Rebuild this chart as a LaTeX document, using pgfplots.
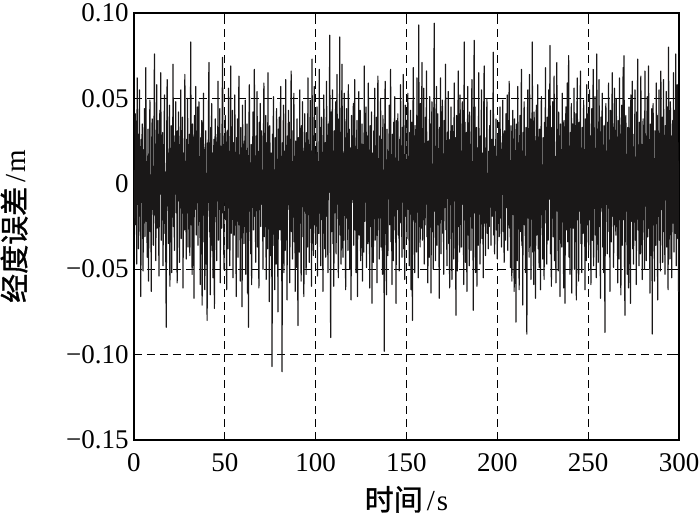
\documentclass[border=0pt]{standalone}
\usepackage{fontspec}
\setmainfont{Liberation Serif}
\newfontfamily\cjk{Noto Sans CJK SC}[FakeBold=1.2]
\usepackage{pgfplots}
\usepackage{pgfplotstable}
\pgfplotsset{compat=1.18}

% longitude error, one sample every 0.25 s
\pgfplotstableread[row sep=\\,header=false]{
0.008\\-0.024\\0.041\\-0.005\\0.017\\-0.047\\0.062\\-0.012\\0.029\\-0.038\\0.003\\0.055\\-0.019\\0.011\\-0.066\\0.026\\-0.002\\0.035\\-0.014\\-0.051\\
0.020\\-0.009\\0.044\\-0.031\\0.006\\0.068\\-0.022\\0.013\\-0.043\\0.001\\0.032\\-0.057\\0.016\\-0.007\\0.049\\-0.028\\0.004\\-0.063\\0.023\\0.038\\
-0.015\\0.010\\-0.036\\0.027\\0.076\\-0.018\\0.005\\-0.045\\0.014\\0.058\\-0.026\\0.002\\0.037\\-0.011\\-0.054\\0.021\\0.043\\-0.006\\0.065\\-0.033\\
0.009\\-0.021\\0.030\\-0.048\\0.016\\-0.003\\0.052\\-0.029\\0.007\\-0.040\\-0.084\\0.025\\0.061\\-0.013\\0.018\\-0.035\\0.004\\0.046\\-0.060\\0.012\\
-0.008\\0.034\\-0.052\\0.019\\0.002\\0.070\\-0.025\\0.011\\-0.039\\0.028\\-0.006\\0.048\\-0.017\\0.005\\-0.058\\0.031\\-0.010\\0.042\\0.015\\-0.046\\
0.023\\-0.014\\0.055\\-0.032\\0.008\\-0.005\\0.039\\-0.061\\0.018\\0.003\\-0.027\\0.064\\-0.020\\0.012\\-0.044\\0.026\\-0.001\\0.050\\-0.037\\0.007\\
-0.018\\0.029\\-0.042\\0.013\\0.083\\-0.024\\0.006\\-0.053\\0.035\\-0.009\\0.021\\-0.067\\0.040\\-0.015\\0.004\\0.057\\-0.030\\0.017\\-0.008\\0.045\\
-0.036\\0.010\\0.048\\-0.022\\0.001\\-0.059\\0.027\\-0.012\\0.037\\-0.071\\0.015\\-0.004\\0.053\\-0.034\\0.020\\-0.062\\0.009\\0.031\\-0.047\\0.002\\
-0.080\\0.024\\-0.011\\0.041\\0.071\\-0.028\\0.012\\-0.065\\0.033\\-0.006\\0.047\\-0.039\\0.018\\-0.055\\0.007\\0.026\\-0.073\\0.014\\0.038\\-0.019\\
0.005\\-0.045\\0.029\\-0.010\\0.060\\-0.033\\0.016\\-0.003\\0.044\\-0.058\\0.022\\0.008\\-0.026\\0.036\\0.074\\-0.017\\0.003\\-0.050\\0.028\\-0.007\\
0.040\\-0.021\\0.013\\-0.062\\0.031\\0.002\\-0.038\\0.056\\-0.013\\0.019\\-0.048\\0.009\\0.069\\-0.029\\0.015\\-0.005\\0.043\\-0.055\\0.024\\0.011\\
-0.030\\0.052\\-0.016\\0.004\\-0.066\\0.027\\-0.008\\0.038\\-0.043\\0.017\\0.063\\-0.024\\0.006\\-0.057\\0.033\\-0.012\\0.021\\-0.072\\0.046\\-0.002\\
0.014\\-0.035\\0.025\\-0.007\\0.049\\-0.053\\0.010\\-0.020\\0.035\\-0.064\\0.003\\-0.084\\0.030\\0.058\\-0.016\\0.008\\-0.041\\0.023\\-0.059\\0.016\\
-0.004\\0.042\\-0.027\\0.012\\0.067\\-0.019\\0.001\\-0.046\\0.028\\-0.010\\0.054\\-0.037\\0.019\\-0.006\\-0.061\\0.036\\-0.015\\0.047\\-0.025\\0.009\\
0.031\\-0.012\\0.006\\-0.050\\0.022\\0.059\\-0.031\\0.015\\-0.003\\0.040\\-0.056\\0.024\\0.007\\-0.038\\0.065\\-0.018\\0.011\\-0.069\\0.034\\-0.009\\
-0.042\\0.018\\0.004\\-0.107\\0.029\\-0.014\\0.051\\-0.036\\0.008\\-0.062\\0.027\\0.013\\-0.047\\0.044\\-0.020\\0.003\\-0.075\\0.032\\-0.005\\0.039\\
-0.027\\0.014\\0.057\\-0.033\\0.006\\-0.110\\0.024\\-0.012\\0.046\\-0.052\\0.019\\0.002\\-0.039\\0.061\\-0.022\\0.010\\-0.068\\0.028\\-0.009\\0.043\\
-0.015\\0.036\\-0.058\\0.020\\0.004\\0.066\\-0.028\\0.009\\-0.044\\0.031\\-0.006\\0.053\\-0.034\\0.016\\-0.063\\0.025\\0.001\\-0.049\\0.038\\-0.018\\
-0.083\\0.027\\0.011\\-0.040\\0.055\\-0.023\\0.007\\-0.057\\0.034\\-0.002\\0.048\\-0.031\\0.019\\-0.066\\0.012\\0.041\\-0.016\\0.005\\-0.053\\0.030\\
0.003\\-0.037\\0.062\\-0.018\\0.023\\-0.046\\0.010\\0.049\\-0.026\\0.014\\-0.060\\0.073\\-0.009\\0.028\\-0.042\\0.017\\0.057\\-0.024\\0.006\\-0.035\\
0.020\\-0.008\\0.045\\-0.054\\0.013\\0.001\\-0.029\\0.067\\-0.014\\0.033\\-0.048\\0.008\\0.039\\-0.021\\0.005\\-0.063\\0.026\\0.052\\-0.011\\-0.038\\
0.024\\-0.043\\0.016\\0.060\\-0.019\\0.007\\-0.052\\0.035\\-0.005\\0.029\\0.087\\-0.016\\-0.090\\0.042\\-0.028\\0.012\\0.055\\-0.035\\0.003\\-0.060\\
0.031\\-0.017\\0.009\\0.048\\-0.041\\0.022\\0.064\\-0.012\\0.002\\-0.055\\0.038\\-0.024\\0.086\\-0.030\\0.014\\-0.047\\0.026\\0.070\\-0.008\\-0.043\\
0.018\\-0.033\\0.053\\-0.004\\0.011\\-0.062\\0.027\\0.044\\-0.020\\0.006\\-0.039\\0.058\\-0.015\\0.032\\-0.050\\0.021\\0.003\\-0.068\\0.040\\-0.011\\
0.025\\-0.009\\0.047\\-0.036\\0.015\\0.061\\-0.027\\0.004\\-0.052\\0.020\\0.037\\-0.066\\0.010\\-0.018\\0.054\\-0.030\\0.008\\0.043\\-0.045\\0.016\\
-0.002\\0.035\\-0.057\\0.023\\0.009\\-0.040\\0.069\\-0.022\\0.013\\-0.005\\0.045\\-0.049\\0.028\\0.002\\-0.035\\0.059\\-0.013\\0.019\\-0.061\\0.034\\
0.012\\-0.025\\0.042\\-0.070\\0.018\\0.006\\-0.046\\0.031\\-0.010\\0.056\\-0.033\\0.021\\-0.004\\0.039\\-0.058\\0.015\\0.063\\-0.020\\0.007\\-0.044\\
0.028\\-0.011\\0.050\\-0.037\\0.003\\0.026\\-0.053\\0.040\\-0.016\\0.008\\-0.098\\0.023\\0.060\\-0.029\\0.014\\-0.065\\0.032\\0.002\\-0.042\\0.019\\
-0.007\\0.046\\-0.024\\0.011\\0.067\\-0.034\\0.017\\-0.059\\0.029\\0.005\\-0.045\\0.036\\-0.012\\0.051\\-0.027\\0.009\\-0.070\\0.037\\0.022\\-0.015\\
0.041\\-0.030\\0.013\\-0.051\\0.026\\0.002\\0.058\\-0.023\\0.007\\-0.043\\0.033\\-0.008\\0.064\\-0.038\\0.016\\-0.056\\0.024\\0.046\\-0.019\\0.004\\
-0.032\\0.021\\0.053\\-0.015\\0.006\\-0.048\\0.030\\-0.004\\0.043\\-0.062\\0.018\\0.036\\-0.080\\0.027\\0.068\\-0.021\\0.011\\-0.052\\0.034\\-0.009\\
0.015\\-0.040\\0.062\\-0.013\\0.028\\-0.055\\0.093\\-0.018\\0.009\\-0.037\\0.047\\-0.026\\0.003\\0.071\\-0.033\\0.020\\-0.011\\0.056\\-0.047\\0.014\\
-0.024\\0.039\\-0.006\\0.066\\-0.031\\0.012\\-0.058\\0.025\\0.004\\-0.043\\0.051\\-0.019\\0.035\\-0.064\\0.017\\0.048\\-0.028\\0.008\\-0.050\\0.031\\
0.094\\-0.016\\0.022\\-0.045\\0.010\\0.057\\-0.036\\0.003\\0.041\\-0.024\\0.015\\-0.067\\0.033\\-0.009\\0.062\\-0.041\\0.027\\-0.004\\0.049\\-0.029\\
0.007\\-0.053\\0.037\\-0.014\\0.024\\0.070\\-0.027\\0.012\\-0.048\\0.030\\-0.003\\0.054\\-0.035\\0.018\\-0.061\\0.026\\0.005\\0.045\\-0.022\\-0.056\\
0.034\\-0.018\\0.008\\-0.044\\0.059\\-0.010\\0.027\\-0.033\\-0.077\\0.040\\0.013\\-0.051\\0.022\\0.066\\-0.025\\0.006\\-0.040\\0.052\\-0.016\\0.019\\
-0.037\\0.026\\0.048\\-0.012\\0.003\\-0.059\\0.083\\-0.021\\0.036\\-0.046\\0.011\\0.030\\-0.063\\0.017\\0.057\\-0.030\\0.009\\-0.048\\0.042\\-0.005\\
0.023\\-0.039\\0.015\\0.061\\-0.026\\0.007\\-0.074\\0.029\\0.084\\-0.017\\0.045\\-0.052\\0.010\\0.033\\-0.060\\0.021\\0.004\\-0.036\\0.065\\-0.014\\
0.011\\-0.047\\0.028\\-0.005\\0.055\\-0.032\\0.018\\0.002\\-0.055\\0.039\\0.069\\-0.023\\0.014\\-0.042\\0.027\\-0.008\\0.050\\-0.029\\0.006\\-0.038\\
0.019\\-0.025\\0.034\\-0.010\\0.043\\-0.036\\0.008\\0.026\\-0.019\\0.004\\0.077\\-0.030\\0.013\\-0.041\\0.022\\-0.006\\0.038\\-0.027\\0.016\\-0.044\\
0.029\\-0.012\\0.036\\-0.031\\0.005\\0.045\\-0.020\\0.012\\-0.037\\0.024\\-0.003\\0.049\\-0.028\\0.009\\-0.046\\0.031\\0.018\\-0.033\\0.041\\-0.014\\
0.008\\0.052\\-0.039\\0.017\\-0.007\\0.060\\-0.026\\0.003\\-0.049\\0.034\\0.021\\-0.057\\0.012\\0.043\\-0.018\\0.026\\-0.063\\0.038\\-0.010\\0.015\\
-0.081\\0.035\\0.006\\-0.045\\0.057\\-0.017\\0.024\\-0.062\\0.013\\0.040\\-0.028\\0.005\\0.067\\-0.036\\0.019\\-0.071\\0.030\\-0.004\\0.048\\-0.024\\
0.016\\-0.052\\0.033\\0.002\\-0.088\\0.027\\0.055\\-0.020\\0.009\\-0.043\\0.064\\-0.014\\0.038\\-0.056\\0.021\\-0.008\\0.083\\-0.040\\0.013\\-0.059\\
0.042\\-0.011\\0.025\\-0.067\\0.018\\0.046\\-0.030\\0.004\\0.058\\-0.038\\0.015\\-0.049\\0.032\\0.006\\-0.062\\0.024\\0.051\\-0.018\\0.010\\-0.044\\
0.027\\0.007\\-0.056\\0.036\\-0.015\\0.068\\-0.023\\0.013\\-0.047\\0.039\\0.002\\-0.033\\0.055\\-0.009\\0.021\\0.081\\-0.041\\0.019\\-0.060\\0.033\\
-0.020\\0.048\\-0.031\\0.010\\0.063\\-0.045\\0.016\\-0.005\\-0.058\\0.030\\0.071\\-0.016\\0.006\\-0.051\\0.042\\-0.022\\0.028\\-0.066\\0.035\\-0.001\\
0.014\\-0.037\\0.053\\-0.012\\0.024\\-0.061\\0.037\\0.008\\-0.070\\0.019\\0.045\\-0.027\\0.003\\0.059\\-0.034\\0.012\\0.075\\-0.043\\0.022\\-0.053\\
0.030\\-0.008\\0.047\\-0.064\\0.011\\0.035\\-0.026\\0.006\\0.056\\-0.050\\0.018\\-0.013\\0.041\\-0.068\\0.025\\0.062\\-0.021\\0.009\\-0.057\\0.036\\
-0.016\\0.027\\0.066\\-0.035\\0.004\\-0.052\\0.033\\0.017\\-0.029\\0.049\\-0.007\\0.020\\-0.062\\0.038\\0.013\\-0.045\\0.058\\-0.024\\0.007\\0.041\\
-0.039\\0.012\\0.055\\-0.021\\0.028\\-0.059\\0.009\\0.044\\-0.033\\0.003\\0.067\\-0.048\\0.024\\-0.011\\0.051\\-0.030\\0.015\\-0.055\\0.076\\-0.018\\
0.032\\-0.046\\0.010\\0.061\\-0.025\\0.005\\-0.067\\0.039\\-0.014\\0.022\\0.053\\-0.037\\0.008\\-0.052\\0.034\\-0.020\\-0.087\\0.028\\0.047\\-0.012\\
0.018\\-0.041\\0.036\\-0.006\\0.059\\-0.028\\0.013\\-0.063\\0.043\\0.002\\-0.034\\0.025\\0.065\\-0.019\\0.007\\-0.049\\0.031\\0.056\\-0.024\\0.010\\
-0.030\\0.050\\-0.015\\0.022\\-0.058\\0.037\\0.004\\-0.044\\0.062\\-0.012\\0.029\\-0.065\\0.017\\0.046\\-0.036\\0.009\\0.068\\-0.021\\0.075\\-0.041\\
-0.077\\0.024\\0.040\\-0.016\\0.008\\-0.053\\0.033\\0.015\\-0.061\\0.045\\-0.007\\0.026\\-0.070\\0.052\\-0.022\\0.011\\0.060\\-0.038\\0.019\\-0.047\\
0.029\\-0.010\\0.055\\-0.033\\0.014\\-0.059\\0.042\\-0.004\\0.073\\-0.027\\0.018\\-0.048\\0.036\\0.006\\-0.041\\0.063\\-0.019\\0.023\\-0.056\\0.012\\
0.038\\-0.021\\0.007\\-0.050\\0.066\\-0.013\\0.028\\-0.045\\0.017\\0.051\\-0.031\\0.003\\0.069\\-0.026\\0.010\\-0.064\\0.035\\0.020\\-0.042\\0.044\\
-0.088\\0.016\\0.047\\-0.024\\0.005\\-0.057\\0.031\\0.012\\-0.036\\0.059\\-0.018\\0.040\\-0.068\\0.023\\-0.009\\0.055\\-0.033\\0.014\\-0.051\\0.066\\
0.021\\-0.015\\0.039\\-0.046\\0.008\\0.061\\-0.028\\0.017\\-0.053\\0.034\\0.002\\0.054\\-0.037\\0.012\\0.045\\-0.062\\0.080\\-0.017\\0.030\\-0.044\\
0.048\\-0.011\\0.028\\-0.055\\0.019\\0.037\\-0.023\\0.065\\-0.040\\0.006\\0.043\\-0.029\\0.076\\-0.048\\0.015\\0.058\\-0.032\\0.024\\-0.063\\0.012\\
}\errdata

\begin{document}
\begin{tikzpicture}
\begin{axis}[
    name=ax,
    scale only axis,
    width=272.5pt, height=213.5pt,
    xmin=0, xmax=300, ymin=-0.15, ymax=0.10,
    xtick={0,50,100,150,200,250,300},
    xticklabels={0,50,100,150,200,250,300},
    ytick={-0.15,-0.10,-0.05,0,0.05,0.10},
    yticklabels={−0.15,−0.10,−0.05,0,0.05,0.10},
    grid=major,
    major grid style={black, line width=0.6pt, dash pattern=on 4pt off 2.5pt},
    axis line style={line width=0.9pt},
    tick align=inside, major tick length=3pt,
    tick style={black, line width=0.6pt},
    tick label style={font=\fontsize{13.5}{16}\selectfont},
    xticklabel style={yshift=-3pt},
    yticklabel style={xshift=0.8pt},
    every axis y label/.style={at={(axis description cs:-0.22,0.5)}, rotate=90,
        anchor=center, inner sep=0pt, font=\fontsize{14.5}{16}\selectfont},
    every axis x label/.style={at={(axis description cs:0.5,-0.139)},
        anchor=center, inner sep=0pt, font=\fontsize{14.5}{16}\selectfont},
    xlabel={{\cjk 时间}\kern2pt/\kern1pt s},
    ylabel={{\cjk 经度误差}\kern2pt/\kern1pt m},
]
\addplot[color={rgb,255:red,26;green,24;blue,24}, line width=0.6pt, line join=round, no marks]
    table[x expr={(\coordindex+1)*0.25}, y index=0] {\errdata};
\end{axis}
\pgfresetboundingbox
\path[use as bounding box] ([shift={(-67pt,-38.5pt)}]ax.south west)
    rectangle ([shift={(10.5pt,6.5pt)}]ax.north east);
\end{tikzpicture}
\end{document}
